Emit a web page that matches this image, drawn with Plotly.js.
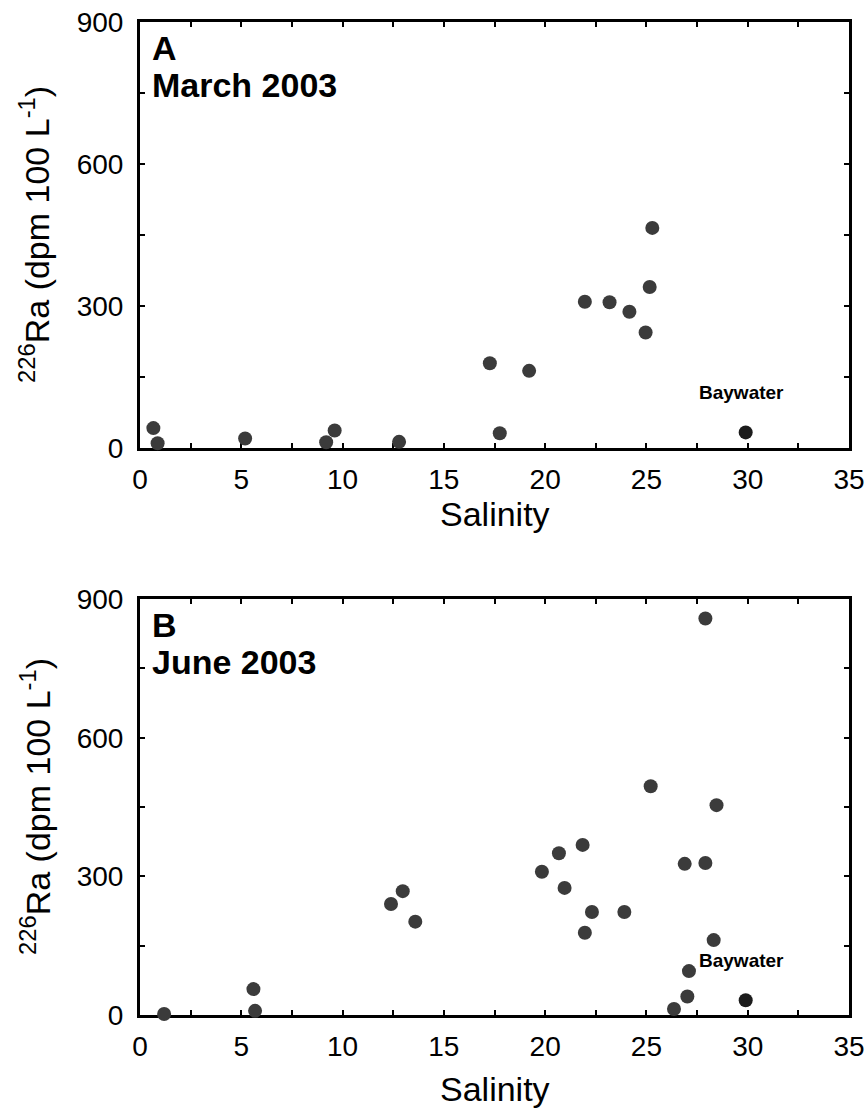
<!DOCTYPE html>
<html>
<head>
<meta charset="utf-8">
<script src="https://cdn.plot.ly/plotly-3.0.1.min.js"></script>
<style>html,body{margin:0;padding:0;background:#fff;}#chart{width:868px;height:1113px;}</style>
</head>
<body>
<div id="chart"></div>
<script>
// Panel A: March 2003
const marchSalinity = [0.66, 0.87, 5.19, 9.19, 9.61, 12.79, 17.27, 17.76, 19.21, 21.96, 23.18, 24.16, 24.96, 25.16, 25.29];
const marchRa226    = [42, 10, 20, 12, 37, 13, 179, 31, 163, 309, 308, 288, 244, 340, 465];
const marchBaySalinity = [29.9];
const marchBayRa226    = [33];

// Panel B: June 2003
const juneSalinity = [1.19, 5.6, 5.68, 12.39, 12.97, 13.59, 19.84, 20.68, 20.96, 21.85, 21.96, 22.31, 23.91, 25.21, 26.36, 26.89, 27.02, 27.1, 27.91, 27.91, 28.32, 28.46];
const juneRa226    = [2, 56, 9, 240, 268, 202, 310, 350, 275, 368, 178, 223, 223, 495, 13, 327, 40, 95, 858, 329, 162, 454];
const juneBaySalinity = [29.9];
const juneBayRa226    = [32];

const panelLetters = ['A', 'B'];
const panelDates = ['March 2003', 'June 2003'];
const xTickVals = [0, 5, 10, 15, 20, 25, 30, 35];
const yTickVals = [0, 300, 600, 900];
const xTitle = 'Salinity';
const yTitle = '<sup>226</sup>Ra (dpm 100 L<sup>-1</sup>)';
const bayLabel = 'Baywater';
const bayLabelPos = [[29.7, 118], [29.7, 117]];

const FONT = 'Liberation Sans, Arial, Helvetica, sans-serif';
const ptColor = '#3b3b3b';
const bayColor = '#1c1c1c';

function pts(x, y, xa, ya, color) {
  return {x: x, y: y, xaxis: xa, yaxis: ya, type: 'scatter', mode: 'markers',
    cliponaxis: false, showlegend: false, hoverinfo: 'x+y',
    marker: {size: 14, color: color, line: {width: 0}}};
}

const data = [
  pts(marchSalinity, marchRa226, 'x', 'y', ptColor),
  pts(marchBaySalinity, marchBayRa226, 'x', 'y', bayColor),
  pts(juneSalinity, juneRa226, 'x2', 'y2', ptColor),
  pts(juneBaySalinity, juneBayRa226, 'x2', 'y2', bayColor)
];

function xax(anchor) {
  return {anchor: anchor, domain: [0, 1], range: [0, 35], tickvals: xTickVals,
    ticks: 'inside', ticklen: 5, tickwidth: 2, tickcolor: '#000',
    minor: {dtick: 2.5, tick0: 0, ticks: 'inside', ticklen: 5, tickwidth: 2, tickcolor: '#000'},
    showline: true, linewidth: 3, linecolor: '#000', mirror: 'ticks',
    showgrid: false, zeroline: false, layer: 'below traces',
    ticklabelstandoff: 4,
    tickfont: {family: FONT, size: 28, color: '#000'}};
}
function yax(anchor, domain) {
  return {anchor: anchor, domain: domain, range: [0, 900], tickvals: yTickVals,
    ticks: 'inside', ticklen: 5, tickwidth: 2, tickcolor: '#000',
    minor: {dtick: 150, tick0: 0, ticks: 'inside', ticklen: 5, tickwidth: 2, tickcolor: '#000'},
    showline: true, linewidth: 3, linecolor: '#000', mirror: 'ticks',
    showgrid: false, zeroline: false, layer: 'below traces',
    ticklabelstandoff: 8,
    tickfont: {family: FONT, size: 28, color: '#000'}};
}

const annotations = [];
const axes = [['x', 'y'], ['x2', 'y2']];
const xTitleShift = [-66, -74];
axes.forEach(function (a, i) {
  annotations.push({xref: a[0] + ' domain', yref: a[1] + ' domain', x: 0, y: 1,
    xanchor: 'left', yanchor: 'middle', xshift: 10, yshift: -26, showarrow: false,
    text: '<b>' + panelLetters[i] + '</b>', font: {family: FONT, size: 34, color: '#000'}});
  annotations.push({xref: a[0] + ' domain', yref: a[1] + ' domain', x: 0, y: 1,
    xanchor: 'left', yanchor: 'middle', xshift: 10, yshift: -63, showarrow: false,
    text: '<b>' + panelDates[i] + '</b>', font: {family: FONT, size: 34, color: '#000'}});
  annotations.push({xref: a[0], yref: a[1], x: bayLabelPos[i][0], y: bayLabelPos[i][1],
    xanchor: 'center', yanchor: 'middle', showarrow: false,
    text: '<b>' + bayLabel + '</b>', font: {family: FONT, size: 19, color: '#000'}});
  annotations.push({xref: a[0] + ' domain', yref: a[1] + ' domain', x: 0.5, y: 0,
    xanchor: 'center', yanchor: 'middle', yshift: xTitleShift[i], showarrow: false,
    text: xTitle, font: {family: FONT, size: 34, color: '#000'}});
  annotations.push({xref: a[0] + ' domain', yref: a[1] + ' domain', x: 0, y: 0.5,
    xanchor: 'center', yanchor: 'middle', xshift: -105, showarrow: false, textangle: -90,
    text: yTitle, font: {family: FONT, size: 34, color: '#000'}});
});

const layout = {
  width: 868, height: 1113,
  margin: {l: 140, r: 19, t: 22, b: 98, pad: 0},
  paper_bgcolor: '#fff', plot_bgcolor: '#fff',
  showlegend: false,
  xaxis: xax('y'),
  yaxis: yax('x', [0.571, 1]),
  xaxis2: xax('y2'),
  yaxis2: yax('x2', [0, 0.4189]),
  annotations: annotations
};

Plotly.newPlot('chart', data, layout, {displayModeBar: false, staticPlot: true});
</script>
</body>
</html>
